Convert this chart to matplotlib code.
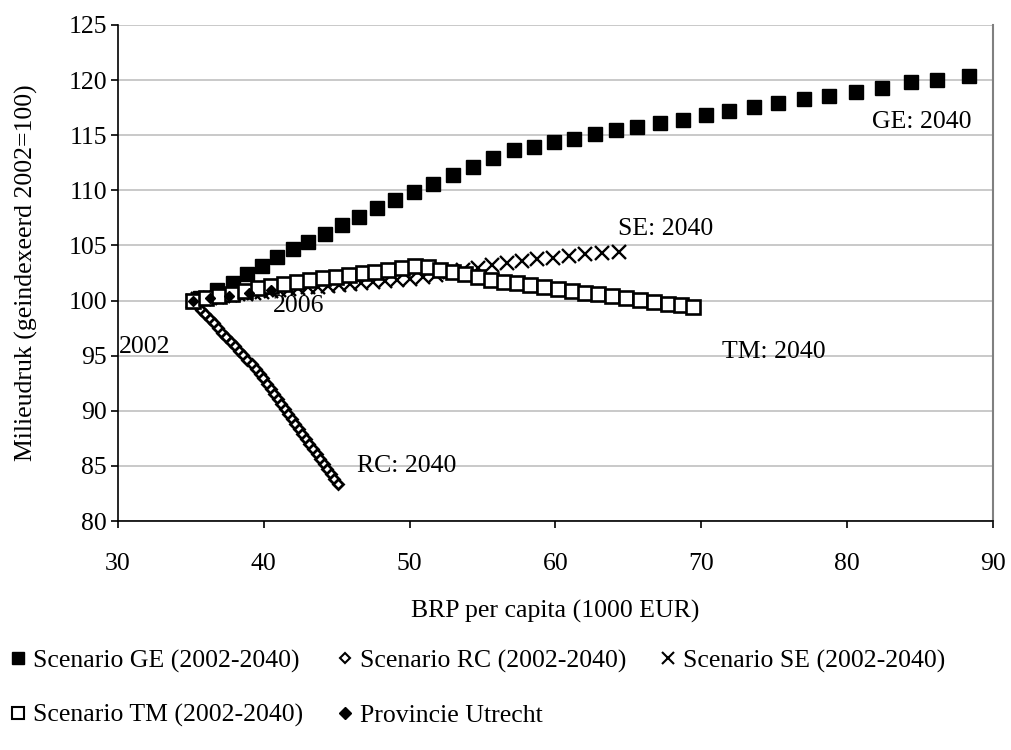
import matplotlib
matplotlib.use("Agg")
import matplotlib.pyplot as plt
from matplotlib.lines import Line2D

plt.rcParams['font.family'] = ['Liberation Serif', 'DejaVu Serif']

# Scenario GE (2002-2040)
ge_x = [35.14, 35.62, 36.79, 37.89, 38.85, 39.87, 40.90, 42.00, 43.03, 44.19,
        45.36, 46.53, 47.76, 48.99, 50.30, 51.60, 52.97, 54.34, 55.71, 57.15,
        58.53, 59.90, 61.27, 62.71, 64.15, 65.59, 67.17, 68.75, 70.32, 71.90,
        73.62, 75.26, 77.05, 78.76, 80.61, 82.40, 84.38, 86.17, 88.36]
ge_y = [100.0, 100.23, 100.96, 101.59, 102.41, 103.13, 103.95, 104.68, 105.31, 106.04,
        106.85, 107.58, 108.40, 109.12, 109.85, 110.57, 111.39, 112.12, 112.93, 113.66,
        113.96, 114.40, 114.70, 115.15, 115.45, 115.70, 116.10, 116.40, 116.80, 117.20,
        117.60, 117.90, 118.30, 118.60, 118.95, 119.30, 119.80, 120.00, 120.40]

# Scenario RC (2002-2040)
rc_x = [35.14, 35.43, 35.71, 36.00, 36.29, 36.58, 36.86, 37.15, 37.44, 37.72,
        38.01, 38.30, 38.58, 38.87, 39.16, 39.45, 39.73, 39.97, 40.22, 40.46,
        40.70, 40.95, 41.19, 41.43, 41.67, 41.92, 42.16, 42.40, 42.65, 42.89,
        43.13, 43.38, 43.62, 43.86, 44.10, 44.35, 44.59, 44.83, 45.08]
rc_y = [100.0, 99.59, 99.17, 98.76, 98.34, 97.93, 97.52, 97.10, 96.69, 96.27,
        95.86, 95.45, 95.03, 94.62, 94.20, 93.79, 93.38, 92.93, 92.47, 92.02,
        91.56, 91.11, 90.66, 90.20, 89.75, 89.29, 88.84, 88.39, 87.93, 87.48,
        87.02, 86.57, 86.12, 85.66, 85.21, 84.75, 84.30, 83.85, 83.39]

# Scenario SE (2002-2040)
se_x = [35.14, 35.52, 35.92, 36.33, 36.77, 37.23, 37.71, 38.22, 38.75, 39.30,
        39.87, 40.46, 41.07, 41.70, 42.35, 43.02, 43.72, 44.43, 45.16, 45.91,
        46.70, 47.50, 48.32, 49.16, 50.03, 50.91, 51.82, 52.74, 53.69, 54.66,
        55.65, 56.66, 57.69, 58.74, 59.82, 60.91, 62.03, 63.17, 64.33]
se_y = [100.0, 100.11, 100.18, 100.25, 100.32, 100.39, 100.48, 100.56, 100.64, 100.72,
        100.79, 100.88, 100.95, 101.04, 101.12, 101.19, 101.27, 101.35, 101.42, 101.50,
        101.59, 101.68, 101.78, 101.86, 102.00, 102.15, 102.35, 102.55, 102.78, 102.98,
        103.20, 103.40, 103.60, 103.79, 103.88, 104.03, 104.18, 104.33, 104.45]

# Scenario TM (2002-2040)
tm_x = [35.14, 36.03, 36.93, 37.82, 38.71, 39.60, 40.49, 41.38, 42.27, 43.17,
        44.06, 44.95, 45.84, 46.80, 47.62, 48.51, 49.47, 50.37, 51.26, 52.08,
        52.97, 53.79, 54.69, 55.58, 56.47, 57.36, 58.25, 59.21, 60.17, 61.13,
        62.02, 62.91, 63.87, 64.83, 65.79, 66.75, 67.71, 68.61, 69.43]
tm_y = [100.0, 100.23, 100.41, 100.59, 100.87, 101.14, 101.32, 101.50, 101.68, 101.86,
        102.05, 102.14, 102.32, 102.50, 102.59, 102.77, 102.95, 103.13, 103.04, 102.77,
        102.59, 102.41, 102.14, 101.86, 101.68, 101.59, 101.41, 101.23, 101.05, 100.87,
        100.68, 100.59, 100.41, 100.23, 100.05, 99.87, 99.69, 99.60, 99.41]

# Provincie Utrecht (2002-2006)
ut_x = [35.14, 36.3, 37.6, 39.0, 40.5]
ut_y = [100.0, 100.2, 100.4, 100.7, 101.0]

annotations = [
    ("GE: 2040", 81.7, 116.2),
    ("SE: 2040", 64.3, 106.5),
    ("TM: 2040", 71.4, 95.3),
    ("RC: 2040", 46.4, 85.0),
    ("2006", 40.6, 99.5),
    ("2002", 30.07, 95.8),
]

fs = 18.5

fig = plt.figure(figsize=(10.12, 7.5), dpi=100)
ax = fig.add_axes([0.1166, 0.3053, 0.8644, 0.6614])

ax.plot(ge_x, ge_y, ls='none', marker='s', ms=9.5, mfc='black', mec='black', zorder=3)
ax.plot(rc_x, rc_y, ls='none', marker='D', ms=5.5, mfc='white', mec='black', mew=2.0, zorder=4)
ax.plot(se_x, se_y, ls='none', marker='x', ms=10, mec='black', mew=1.7, zorder=5)
ax.plot(tm_x, tm_y, ls='none', marker='s', ms=9.5, mfc='white', mec='black', mew=1.9, zorder=6)
ax.plot(ut_x, ut_y, ls='none', marker='D', ms=5.5, mfc='black', mec='black', zorder=7)

for txt, x, y in annotations:
    ax.text(x, y, txt, fontsize=fs, ha='left', va='center', zorder=8)

ax.set_xlim(30, 90)
ax.set_ylim(80, 125)
ax.set_xticks(range(30, 91, 10))
ax.set_yticks(range(80, 126, 5))
ax.yaxis.grid(True, color='#c0c0c0', lw=1.2)
ax.set_axisbelow(True)
ax.tick_params(labelsize=fs, direction='out', length=5, width=1.2, colors='black')
ax.tick_params(axis='x', pad=18)
ax.tick_params(axis='y', pad=3)
ax.spines['top'].set_visible(False)
ax.spines['right'].set_color('#808080')
ax.spines['right'].set_linewidth(1.5)
ax.spines['left'].set_linewidth(1.2)
ax.spines['bottom'].set_linewidth(1.2)

ax.set_xlabel('BRP per capita (1000 EUR)', fontsize=fs, labelpad=18)
ax.set_ylabel('Milieudruk (geindexeerd 2002=100)', fontsize=fs, labelpad=22)

# legend order chosen so column filling gives rows GE/RC/SE and TM/Utrecht
handles = [
    Line2D([], [], ls='none', marker='s', ms=8, mfc='black', mec='black'),
    Line2D([], [], ls='none', marker='s', ms=8, mfc='white', mec='black', mew=1.5),
    Line2D([], [], ls='none', marker='D', ms=5, mfc='white', mec='black', mew=1.5),
    Line2D([], [], ls='none', marker='D', ms=6, mfc='black', mec='black'),
    Line2D([], [], ls='none', marker='x', ms=8, mec='black', mew=1.5),
]
labels = ['Scenario GE (2002-2040)', 'Scenario TM (2002-2040)',
          'Scenario RC (2002-2040)', 'Provincie Utrecht',
          'Scenario SE (2002-2040)']
fig.legend(handles, labels, loc='upper left', bbox_to_anchor=(0.0, 0.148), ncol=3,
           frameon=False, fontsize=fs, handlelength=0.6, handletextpad=0.3,
           columnspacing=1.3, labelspacing=1.22, borderaxespad=0)

fig.savefig('out.png', dpi=100, facecolor='white')
